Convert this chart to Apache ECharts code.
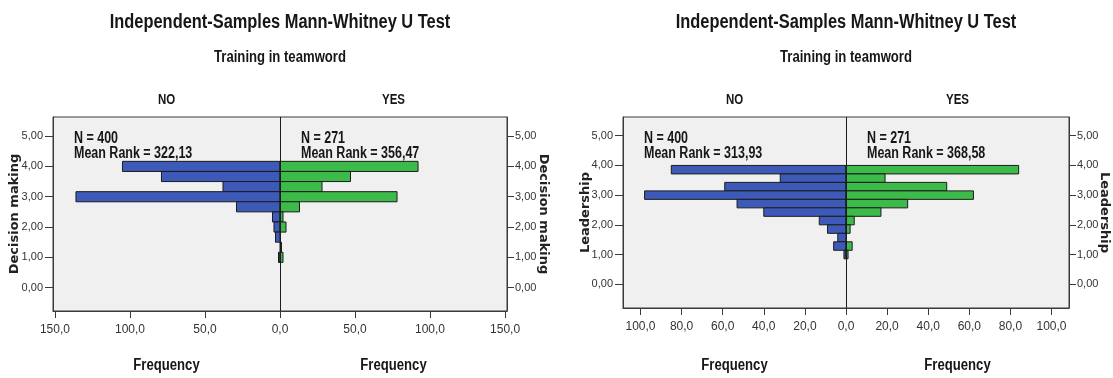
<!DOCTYPE html>
<html>
<head>
<meta charset="utf-8">
<script src="https://cdn.jsdelivr.net/npm/echarts@6/dist/echarts.min.js"></script>
<style>
  html, body { margin: 0; padding: 0; background: #ffffff; }
  #chart { width: 1113px; height: 378px; }
</style>
</head>
<body>
<div id="chart"></div>
<script>
// ---- data ----
const panelTitle = 'Independent-Samples Mann-Whitney U Test';
const groupingName = 'Training in teamword';
const groups = ['NO', 'YES'];
const freqName = 'Frequency';

// Decision making: bins of width 1/3, listed top to bottom by centre
const dmName = 'Decision making';
const dmBinCenters = [4.000, 3.667, 3.333, 3.000, 2.667, 2.333, 2.000, 1.667, 1.333, 1.000];
const dmBinWidth = 1 / 3;
const dmNo  = [105, 79, 38, 136, 29, 5, 4, 3, 0, 1];
const dmYes = [ 92, 47, 28,  78, 13, 2, 4, 0, 1, 2];
const dmN = [400, 271];
const dmMeanRank = ['322,13', '356,47'];
const dmXTicks = [-150, -100, -50, 0, 50, 100, 150];

// Leadership: bins of width 2/7, listed top to bottom by centre
const ldName = 'Leadership';
const ldBinCenters = [3.857, 3.571, 3.286, 3.000, 2.714, 2.429, 2.143, 1.857, 1.571, 1.286, 1.000];
const ldBinWidth = 2 / 7;
const ldNo  = [85, 32, 59, 98, 53, 40, 13, 9, 4, 6, 1];
const ldYes = [84, 19, 49, 62, 30, 17,  4, 2, 0, 3, 1];
const ldN = [400, 271];
const ldMeanRank = ['313,93', '368,58'];
const ldXTicks = [-100, -80, -60, -40, -20, 0, 20, 40, 60, 80, 100];

const yTicks = [0, 1, 2, 3, 4, 5];

// ---- styling ----
const BLUE = '#3e5ab9';
const GREEN = '#3dbb4a';
const SANS = '"Liberation Sans", Arial, sans-serif';
const WIDE = '"DejaVu Sans", Verdana, sans-serif';
const AXIS_COLOR = '#3a3a3a';
const CONDENSE = 0.82;   // horizontal squeeze for the narrow headline face

function comma(v, d) { return Math.abs(v).toFixed(d).replace('.', ','); }

// signed frequency (NO to the left, YES to the right), bin centre, bin width
function binData(centers, width, no, yes) {
  const out = [];
  centers.forEach((c, i) => {
    if (no[i] > 0) out.push([-no[i], c, width]);
    if (yes[i] > 0) out.push([yes[i], c, width]);
  });
  return out;
}

function renderBin(params, api) {
  const v = api.value(0), c = api.value(1), w = api.value(2);
  const a = api.coord([0, c + w / 2]);
  const b = api.coord([v, c - w / 2]);
  return {
    type: 'rect',
    shape: {
      x: Math.min(a[0], b[0]),
      y: a[1],
      width: Math.abs(b[0] - a[0]),
      height: b[1] - a[1]
    },
    style: { fill: v < 0 ? BLUE : GREEN, stroke: '#1c1c1c', lineWidth: 1 }
  };
}

const panels = [
  { name: dmName, centers: dmBinCenters, width: dmBinWidth, no: dmNo, yes: dmYes,
    n: dmN, rank: dmMeanRank, xTicks: dmXTicks, xMax: 151.3, yMin: -0.77, yMax: 5.63,
    grid: { left: 53, top: 117, width: 454, height: 194 }, nameGapL: 32, nameGapR: 30 },
  { name: ldName, centers: ldBinCenters, width: ldBinWidth, no: ldNo, yes: ldYes,
    n: ldN, rank: ldMeanRank, xTicks: ldXTicks, xMax: 108.5, yMin: -0.8, yMax: 5.63,
    grid: { left: 623, top: 117, width: 446, height: 191 }, nameGapL: 31, nameGapR: 29 }
];

const grid = [], xAxis = [], yAxis = [], series = [], graphic = [];

panels.forEach((p, k) => {
  grid.push(Object.assign({
    show: true, backgroundColor: '#f0f0f0', borderColor: AXIS_COLOR, borderWidth: 1
  }, p.grid));

  xAxis.push({
    type: 'value', gridIndex: k, min: -p.xMax, max: p.xMax, position: 'bottom',
    axisLine: { show: true, onZero: false, lineStyle: { color: AXIS_COLOR, width: 1 } },
    axisTick: { show: true, length: 7, customValues: p.xTicks, lineStyle: { color: AXIS_COLOR, width: 1 } },
    axisLabel: { customValues: p.xTicks, margin: 13, color: '#333', fontSize: 12, fontFamily: SANS,
                 formatter: v => comma(v, 1) },
    splitLine: { show: false }
  });

  const yBase = {
    type: 'value', gridIndex: k, min: p.yMin, max: p.yMax,
    axisLine: { show: true, onZero: false, lineStyle: { color: AXIS_COLOR, width: 1 } },
    axisTick: { show: true, length: 8, customValues: yTicks, lineStyle: { color: AXIS_COLOR, width: 1 } },
    axisLabel: { customValues: yTicks, margin: 10, color: '#333', fontSize: 11, fontFamily: SANS,
                 formatter: v => comma(v, 2) },
    splitLine: { show: false },
    name: p.name, nameLocation: 'middle', nameMoveOverlap: false,
    nameTextStyle: { fontFamily: WIDE, fontWeight: 'bold', fontSize: 13, color: '#222' }
  };
  yAxis.push(Object.assign({}, yBase, { position: 'left', nameGap: p.nameGapL, nameRotate: 90 }));
  yAxis.push(Object.assign({}, yBase, { position: 'right', nameGap: p.nameGapR, nameRotate: -90,
    axisTick: Object.assign({}, yBase.axisTick, { length: 7 }),
    axisLabel: Object.assign({}, yBase.axisLabel, { margin: 8 }) }));

  series.push({
    type: 'custom', xAxisIndex: k, yAxisIndex: 2 * k,
    renderItem: renderBin,
    encode: { x: 0, y: 1 },
    data: binData(p.centers, p.width, p.no, p.yes),
    silent: true,
    markLine: {
      silent: true, symbol: 'none', label: { show: false },
      lineStyle: { color: '#1c1c1c', width: 1, type: 'solid' },
      data: [{ xAxis: 0 }]
    }
  });

  const g = p.grid;
  const cx = g.left + g.width / 2;
  const leftMid = g.left + g.width / 4;
  const rightMid = g.left + g.width * 3 / 4;
  const txt = (x, y, text, size, align, squeeze) => ({
    type: 'text', x: x, y: y, scaleX: squeeze || CONDENSE, scaleY: 1, silent: true,
    style: { text: text, fontSize: size, fontWeight: 'bold', fontFamily: SANS,
             fill: '#161616', align: align || 'center', verticalAlign: 'middle' }
  });
  graphic.push(txt(cx, 22, panelTitle, 20));
  graphic.push(txt(cx, 58, groupingName, 16));
  graphic.push(txt(leftMid, 100, groups[0], 14));
  graphic.push(txt(rightMid, 100, groups[1], 14));
  graphic.push(txt(leftMid, 366, freqName, 16));
  graphic.push(txt(rightMid, 366, freqName, 16));
  graphic.push(txt(g.left + 21, 139, 'N = ' + p.n[0], 16, 'left', 0.78));
  graphic.push(txt(g.left + 21, 154, 'Mean Rank = ' + p.rank[0], 16, 'left', 0.78));
  graphic.push(txt(cx + 21, 139, 'N = ' + p.n[1], 16, 'left', 0.78));
  graphic.push(txt(cx + 21, 154, 'Mean Rank = ' + p.rank[1], 16, 'left', 0.78));
});

const chart = echarts.init(document.getElementById('chart'), null, { renderer: 'canvas' });
chart.setOption({
  backgroundColor: '#ffffff',
  animation: false,
  grid: grid,
  xAxis: xAxis,
  yAxis: yAxis,
  series: series,
  graphic: graphic
});
</script>
</body>
</html>
